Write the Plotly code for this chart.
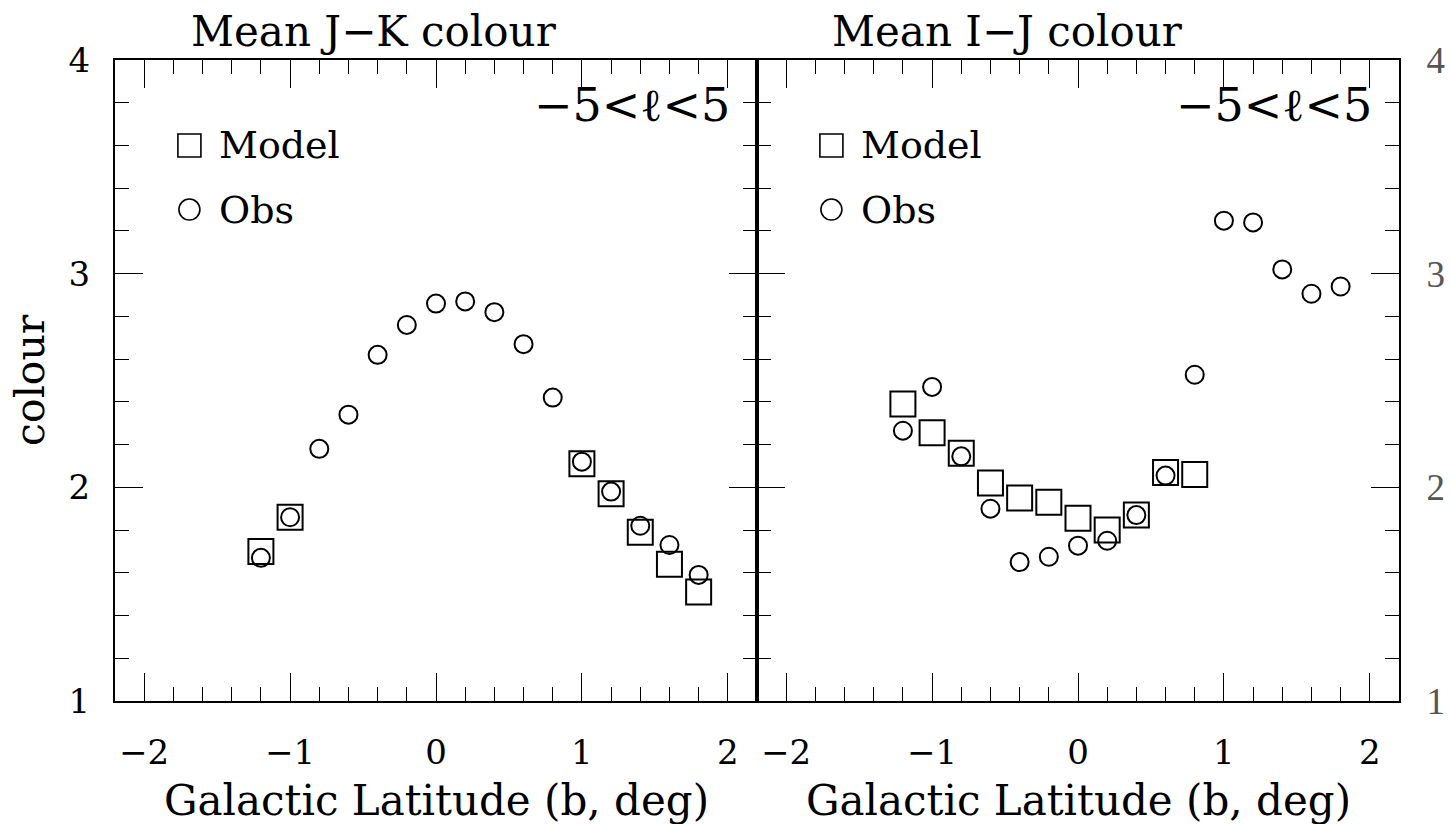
import plotly.graph_objects as go

# ---- data ----
b_obs = [-1.2, -1.0, -0.8, -0.6, -0.4, -0.2, 0.0, 0.2, 0.4, 0.6, 0.8, 1.0, 1.2, 1.4, 1.6, 1.8]
jk_obs = [1.67, 1.86, 2.18, 2.34, 2.62, 2.76, 2.86, 2.87, 2.82, 2.67, 2.42, 2.12, 1.98, 1.82, 1.73, 1.59]
b_jk_model = [-1.2, -1.0, 1.0, 1.2, 1.4, 1.6, 1.8]
jk_model = [1.70, 1.86, 2.11, 1.97, 1.79, 1.64, 1.51]

ij_obs = [2.265, 2.47, 2.145, 1.90, 1.65, 1.675, 1.727, 1.75, 1.87, 2.055, 2.527, 3.248, 3.24, 3.02, 2.906, 2.94]
b_ij_model = [-1.2, -1.0, -0.8, -0.6, -0.4, -0.2, 0.0, 0.2, 0.4, 0.6, 0.8]
ij_model = [2.39, 2.255, 2.16, 2.02, 1.95, 1.93, 1.855, 1.80, 1.87, 2.07, 2.06]

x_tickvals = [-2, -1, 0, 1, 2]
x_ticktext = ["\u22122", "\u22121", "0", "1", "2"]
y_tickvals = [1, 2, 3, 4]
y_ticktext = ["1", "2", "3", "4"]

FONT = "DejaVu Serif"
W, H = 1451, 824

fig = go.Figure()

def add_panel(xa, ya, bx_obs, y_obs, bx_mod, y_mod):
    fig.add_trace(go.Scatter(x=bx_mod, y=y_mod, mode="markers", xaxis=xa, yaxis=ya,
                             marker=dict(symbol="square-open", size=25, color="black",
                                         line=dict(width=2, color="black")),
                             showlegend=False))
    fig.add_trace(go.Scatter(x=bx_obs, y=y_obs, mode="markers", xaxis=xa, yaxis=ya,
                             marker=dict(symbol="circle-open", size=18, color="black",
                                         line=dict(width=2, color="black")),
                             showlegend=False))
    # legend markers
    fig.add_trace(go.Scatter(x=[-1.69], y=[3.60], mode="markers", xaxis=xa, yaxis=ya,
                             marker=dict(symbol="square-open", size=23, color="black",
                                         line=dict(width=1.6, color="black")),
                             showlegend=False))
    fig.add_trace(go.Scatter(x=[-1.69], y=[3.30], mode="markers", xaxis=xa, yaxis=ya,
                             marker=dict(symbol="circle-open", size=21, color="black",
                                         line=dict(width=1.6, color="black")),
                             showlegend=False))

add_panel("x", "y", b_obs, jk_obs, b_jk_model, jk_model)
add_panel("x2", "y2", b_obs, ij_obs, b_ij_model, ij_model)

x0, xm, x1 = 115 / W, 757 / W, 1399 / W
y0, y1 = 1 - 701 / H, 1 - 60 / H

xcommon = dict(range=[-2.2, 2.2], showgrid=False, zeroline=False, showline=True,
               automargin=False,
               linecolor="black", linewidth=2, mirror="ticks", ticks="inside",
               ticklen=28, tickwidth=1.3, tickcolor="black",
               tickvals=x_tickvals, ticktext=x_ticktext,
               tickfont=dict(family=FONT, size=34, color="black"),
               ticklabelstandoff=20,
               minor=dict(ticks="inside", ticklen=14, dtick=0.2, tick0=0,
                          tickwidth=1.3, tickcolor="black", showgrid=False))
ycommon = dict(range=[1, 4], showgrid=False, zeroline=False, showline=True,
               automargin=False,
               linecolor="black", linewidth=2, mirror="ticks", ticks="inside",
               ticklen=28, tickwidth=1.3, tickcolor="black",
               tickvals=y_tickvals, ticktext=y_ticktext,
               minor=dict(ticks="inside", ticklen=14, dtick=0.2, tick0=0,
                          tickwidth=1.3, tickcolor="black", showgrid=False))

fig.update_layout(
    width=W, height=H, margin=dict(l=0, r=0, t=0, b=0, autoexpand=False),
    paper_bgcolor="white", plot_bgcolor="white",
    showlegend=False,
    xaxis=dict(domain=[x0, xm], anchor="y", **xcommon),
    xaxis2=dict(domain=[xm, x1], anchor="y2", **xcommon),
    yaxis=dict(domain=[y0, y1], anchor="x", side="left",
               tickfont=dict(family=FONT, size=34, color="black"),
               ticklabelstandoff=16, **ycommon),
    yaxis2=dict(domain=[y0, y1], anchor="x2", side="right",
                tickfont=dict(family="Liberation Serif", size=37, color="#555555"),
                ticklabelstandoff=18, **ycommon),
)

ann = []
def txt(x, y, s, size=36, xref="paper", yref="paper", xanchor="center", yanchor="middle", angle=0, family=FONT):
    ann.append(dict(x=x, y=y, text=s, xref=xref, yref=yref, xanchor=xanchor, yanchor=yanchor,
                    showarrow=False, textangle=angle,
                    font=dict(family=family, size=size, color="black")))

# titles
txt(374 / W, 1 - 32 / H, "Mean J\u2212K colour", size=42)
txt(1008 / W, 1 - 32 / H, "Mean I\u2212J colour", size=42)
# x axis titles
txt(436 / W, 1 - 800 / H, "Galactic Latitude (b, deg)", size=42)
txt(1078 / W, 1 - 800 / H, "Galactic Latitude (b, deg)", size=42)
# y axis title
txt(30 / W, 1 - 380 / H, "colour", size=41, angle=-90)
# region labels and legend texts
for xr, yr in (("x", "y"), ("x2", "y2")):
    txt(2.03, 3.79, "\u22125&lt;\u2113&lt;5", size=46, xref=xr, yref=yr, xanchor="right")
    txt(-1.50, 3.60, "Model", size=38, xref=xr, yref=yr, xanchor="left")
    txt(-1.50, 3.30, "Obs", size=38, xref=xr, yref=yr, xanchor="left")

fig.update_layout(annotations=ann)
fig.write_html("out.html")
